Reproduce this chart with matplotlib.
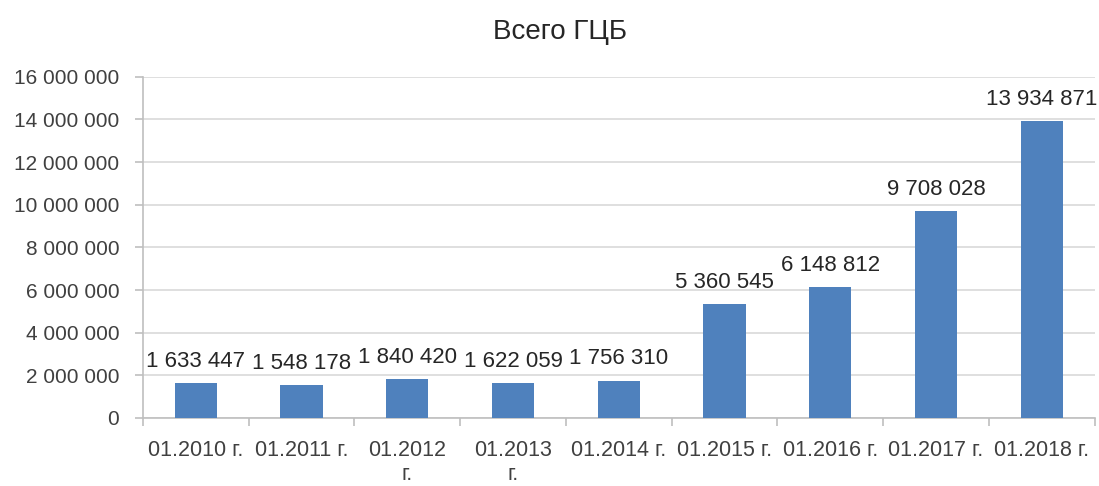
import numpy as np
import matplotlib.pyplot as plt
plt.rcParams['font.family'] = ['Liberation Sans', 'DejaVu Sans']

categories = ['01.2010 г.', '01.2011 г.', '01.2012\nг.', '01.2013\nг.', '01.2014 г.',
              '01.2015 г.', '01.2016 г.', '01.2017 г.', '01.2018 г.']
values = [1633447, 1548178, 1840420, 1622059, 1756310, 5360545, 6148812, 9708028, 13934871]
yticks = np.arange(0, 16000001, 2000000)


def fmt(v):
    return '{:,}'.format(int(v)).replace(',', ' ')


fig = plt.figure(figsize=(10.99, 4.86), dpi=100)
ax = fig.add_axes([0.130, 0.140, 0.866, 0.702])

xpos = np.arange(len(categories))
bars = ax.bar(xpos, values, width=0.4, color='#4F81BD', zorder=3)

ax.set_ylim(0, 16000000)
ax.set_xlim(-0.5, len(categories) - 0.5)
ax.set_yticks(yticks)
ax.set_yticklabels([fmt(t) for t in yticks], fontsize=15, color='#404040')
ax.yaxis.grid(True, color='#d9d9d9', linewidth=1.2, zorder=0)

ax.set_xticks(xpos)
ax.set_xticklabels(categories, fontsize=15.5, color='#404040', va='top', linespacing=1.15)
ax.set_xticks(np.arange(-0.5, len(categories)), minor=True)
ax.tick_params(axis='x', which='major', length=0, pad=16)
ax.tick_params(axis='x', which='minor', length=6, color='#bfbfbf', width=1.2)
ax.tick_params(axis='y', length=6, color='#bfbfbf', width=1.2, pad=11)

for s in ['top', 'right']:
    ax.spines[s].set_visible(False)
for s in ['left', 'bottom']:
    ax.spines[s].set_color('#bfbfbf')
    ax.spines[s].set_linewidth(1.2)

for rect in bars:
    h = rect.get_height()
    ax.annotate(fmt(h), xy=(rect.get_x() + rect.get_width() / 2, h),
                xytext=(0, 8), textcoords='offset points',
                ha='center', va='bottom', fontsize=16, color='#262626')

fig.text(0.51, 0.935, 'Всего ГЦБ', ha='center', va='center', fontsize=20, color='#262626')

plt.savefig('out.png', dpi=100)
